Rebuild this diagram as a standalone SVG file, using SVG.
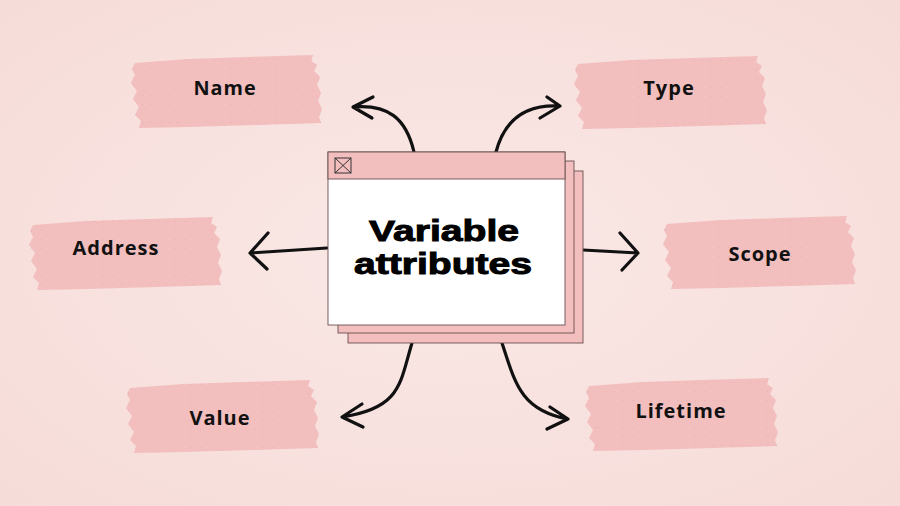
<svg xmlns="http://www.w3.org/2000/svg" xmlns:xlink="http://www.w3.org/1999/xlink" width="900" height="506" viewBox="0 0 900 506">
<defs>
<pattern id="dots" width="9" height="9" patternUnits="userSpaceOnUse">
<circle cx="4.5" cy="4.5" r="0.5" fill="#e6aaaa"/>
</pattern>
<path id="brush" d="M6,8 L60,4 L120,2 L186,0 L184,6 L190,10 L187,16 L193,22 L190,30 L194,38 L191,46 L195,54 L192,62 L194,68 L130,70 L60,72 L10,73 L12,66 L6,60 L10,52 L4,44 L8,36 L2,28 L6,20 L3,14 Z"/>
<radialGradient id="bg" cx="0.5" cy="0.5" r="0.7">
<stop offset="0" stop-color="#fae8e6"/>
<stop offset="1" stop-color="#f6dcd8"/>
</radialGradient>
</defs>
<style>
.brush{fill:#f2bebe}
.dots{fill:url(#dots)}
.lbl{font-family:"Open Sans","DejaVu Sans",sans-serif;font-weight:700;font-size:20px;letter-spacing:1px;fill:#111;text-anchor:middle}
.conn{fill:none;stroke:#111;stroke-width:3.2;stroke-linecap:round;stroke-linejoin:round}
.win{stroke:#6a5050;stroke-width:0.9}
.title{font-family:"Liberation Sans",Arial,sans-serif;font-weight:bold;font-size:30px;fill:#000;stroke:#000;stroke-width:1;text-anchor:middle}
</style>
<rect width="900" height="506" fill="url(#bg)"/>

<g id="connectors">
<path class="conn" d="M414,152 C406,118 388,104 353,107 M373,97 L353,107 L372,118"/>
<path class="conn" d="M496,152 C505,118 528,104 560,106 M547,97 L560,106 L540,118"/>
<path class="conn" d="M327,248 L250,253 M268,233 L250,253 L267,269"/>
<path class="conn" d="M583,250 L638,253 M620,233 L638,253 L622,270"/>
<path class="conn" d="M412,343 C400,382 402,408 342,417 M362,404 L342,417 L363,427"/>
<path class="conn" d="M502,343 C515,382 520,410 568,419 M550,407 L568,419 L547,429"/>
</g>

<g id="center">
<rect class="win" x="348" y="171" width="235" height="172" fill="#f2bebe"/>
<rect class="win" x="338" y="161" width="236" height="172" fill="#f2bebe"/>
<rect class="win" x="328" y="152" width="237" height="173" fill="#ffffff"/>
<rect class="win" x="328" y="152" width="237" height="27" fill="#f2bebe"/>
<rect x="335" y="158" width="16" height="15" fill="none" stroke="#333" stroke-width="1"/>
<path d="M335,158 L351,173 M351,158 L335,173" stroke="#333" stroke-width="1"/>
<text class="title" x="444" y="241" textLength="150" lengthAdjust="spacingAndGlyphs">Variable</text>
<text class="title" x="443" y="274" textLength="178" lengthAdjust="spacingAndGlyphs">attributes</text>
</g>

<g id="name" transform="translate(129,55) scale(0.99,1)">
<use xlink:href="#brush" class="brush"/>
<use xlink:href="#brush" class="dots"/>
<text class="lbl" x="97" y="40">Name</text>
</g>
<g id="type" transform="translate(572,56)">
<use xlink:href="#brush" class="brush"/>
<use xlink:href="#brush" class="dots"/>
<text class="lbl" x="97" y="39">Type</text>
</g>
<g id="address" transform="translate(27,217)">
<use xlink:href="#brush" class="brush"/>
<use xlink:href="#brush" class="dots"/>
<text class="lbl" x="89" y="38">Address</text>
</g>
<g id="scope" transform="translate(661,216)">
<use xlink:href="#brush" class="brush"/>
<use xlink:href="#brush" class="dots"/>
<text class="lbl" x="99" y="45">Scope</text>
</g>
<g id="value" transform="translate(124,380)">
<use xlink:href="#brush" class="brush"/>
<use xlink:href="#brush" class="dots"/>
<text class="lbl" x="96" y="45">Value</text>
</g>
<g id="lifetime" transform="translate(583,378)">
<use xlink:href="#brush" class="brush"/>
<use xlink:href="#brush" class="dots"/>
<text class="lbl" x="98" y="40">Lifetime</text>
</g>
</svg>
